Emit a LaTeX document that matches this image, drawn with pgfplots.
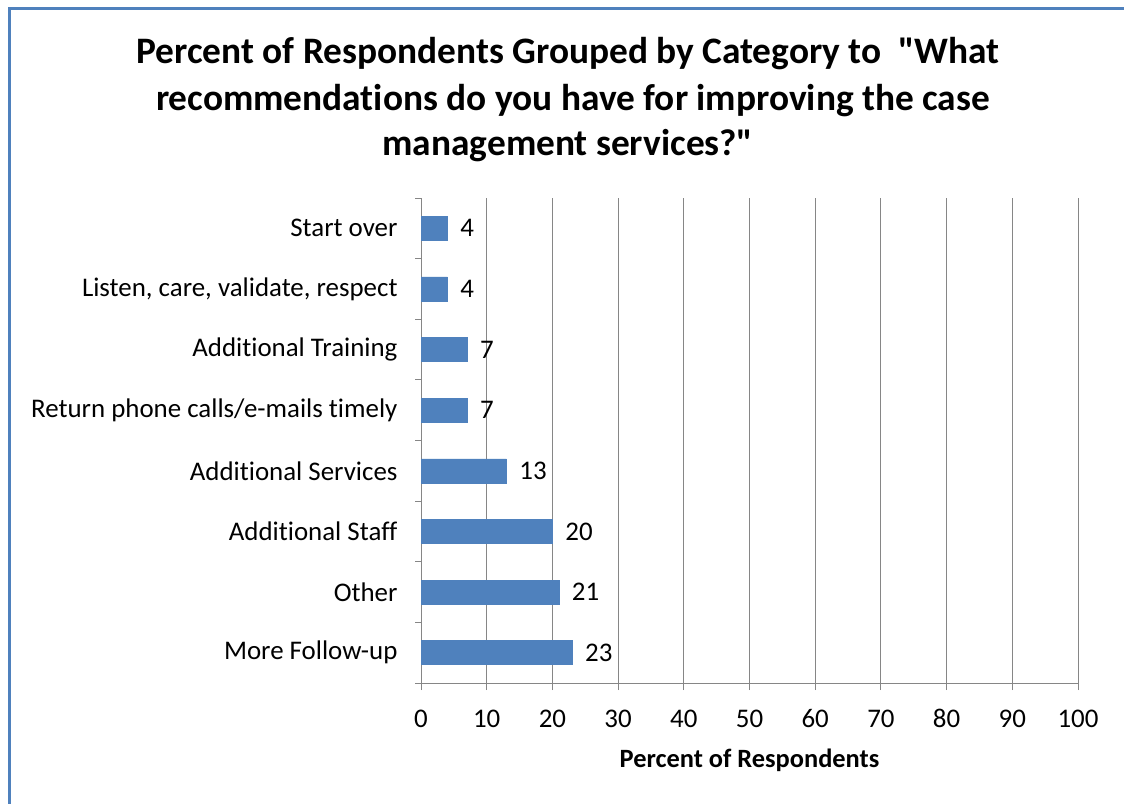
\documentclass[border=0pt]{standalone}
\usepackage{fontspec}
\setmainfont{Carlito}[Ligatures=NoCommon]
\usepackage{pgfplots}
\pgfplotsset{compat=1.18}
\definecolor{barblue}{HTML}{4F81BD}
\definecolor{axgray}{HTML}{868686}
\definecolor{frameblue}{HTML}{4F81BD}

\begin{document}
\begin{tikzpicture}
\path[use as bounding box] (0bp,0bp) rectangle (1124bp,-804bp);
\fill[white] (0bp,0bp) rectangle (1124bp,-804bp);
\draw[frameblue, line width=3bp] (9.5bp,-804bp) -- (9.5bp,-8.5bp) -- (1124bp,-8.5bp);

% title
\begin{scope}[every node/.style={anchor=base, inner sep=0pt, font=\bfseries\fontsize{37.5}{44}\selectfont}]
\node at (568bp,-63bp) {Percent of Respondents Grouped by Category to\ \ \textquotedbl What};
\node at (573bp,-110bp) {recommendations do you have for improving the case};
\node at (568bp,-155bp) {management services?\textquotedbl};
\end{scope}

\begin{axis}[
  at={(421bp,-683bp)}, anchor=south west,
  scale only axis, width=657bp, height=485bp,
  xbar, bar width=24bp,
  xmin=0, xmax=100, xtick={0,10,...,100},
  ymin=-0.5, ymax=7.5, ytick={0,...,7},
  yticklabels={More Follow-up, Other, Additional Staff, Additional Services,
    Return phone calls/e-mails timely\hspace{6bp}, Additional Training,
    {Listen, care, validate, respect}, Start over},
  axis x line*=bottom, axis y line*=left,
  axis line style={axgray, line width=1bp},
  xmajorgrids, grid style={axgray, line width=1bp},
  tick align=outside, major tick length=7bp,
  major x tick style={axgray, line width=1bp},
  major y tick style={draw=none},
  minor ytick={-0.5,0.5,...,7.5},
  minor tick length=6bp,
  minor y tick style={axgray, line width=1bp},
  /pgf/number format/assume math mode=true,
  xticklabel style={font=\fontsize{27}{32}\selectfont, anchor=base, yshift=-37bp},
  yticklabel style={font=\fontsize{27}{32}\selectfont, xshift=-13bp},
  xlabel={Percent of Respondents},
  xlabel style={font=\bfseries\fontsize{26.5}{30}\selectfont,
    at={(axis description cs:0.5,0)}, anchor=base, yshift=-84bp},
  nodes near coords, nodes near coords align=horizontal,
  nodes near coords style={font=\fontsize{27}{32}\selectfont, anchor=west, xshift=9.5bp, black},
]
\addplot[fill=barblue, draw=barblue] coordinates {
  (23,0) (21,1) (20,2) (13,3) (7,4) (7,5) (4,6) (4,7)
};
\end{axis}
\end{tikzpicture}
\end{document}
